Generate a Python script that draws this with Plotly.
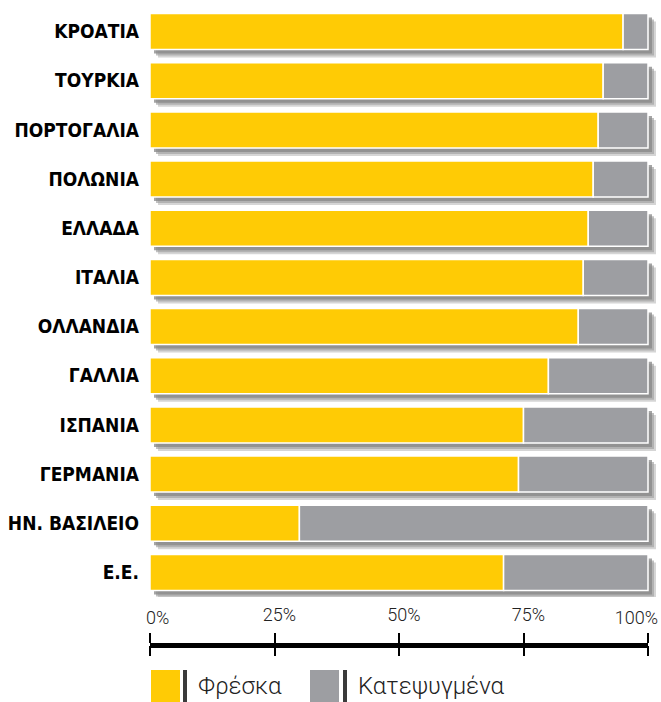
import plotly.graph_objects as go

countries = ["ΚΡΟΑΤΙΑ", "ΤΟΥΡΚΙΑ", "ΠΟΡΤΟΓΑΛΙΑ", "ΠΟΛΩΝΙΑ", "ΕΛΛΑΔΑ", "ΙΤΑΛΙΑ",
             "ΟΛΛΑΝΔΙΑ", "ΓΑΛΛΙΑ", "ΙΣΠΑΝΙΑ", "ΓΕΡΜΑΝΙΑ", "ΗΝ. ΒΑΣΙΛΕΙΟ", "Ε.Ε."]
fresh = [95, 91, 90, 89, 88, 87, 86, 80, 75, 74, 30, 71]
frozen = [5, 9, 10, 11, 12, 13, 14, 20, 25, 26, 70, 29]
series_names = ["Φρέσκα", "Κατεψυγμένα"]
tick_vals = [0, 25, 50, 75, 100]
tick_text = ["0%", "25%", "50%", "75%", "100%"]

YELLOW = "#FFCB05"
GRAY = "#9D9EA2"

W, H = 661, 702
ML, MR, MT, MB = 150, 3, 7, 45
plot_w = W - ML - MR
plot_h = H - MT - MB
x_max = 100 * plot_w / 498.0
n = len(countries)
y_dom0 = 0.0923
pitch_px = plot_h * (1 - y_dom0) / n
bw = 36.0 / pitch_px

totals = [f + z for f, z in zip(fresh, frozen)]

fig = go.Figure()
# soft shadows (layered to imitate a blur)
for d, col in [(8, "rgba(185,185,185,0.6)"), (6, "rgba(160,160,160,0.65)"), (4, "rgba(135,135,135,0.75)")]:
    fig.add_trace(go.Bar(
        y=countries, x=totals, base=[d * 100 / 498.0] * n, orientation="h",
        width=bw, offset=-bw / 2 + d / pitch_px,
        marker=dict(color=col, line=dict(width=0)),
        showlegend=False, hoverinfo="skip"))
fig.add_trace(go.Bar(
    y=countries, x=fresh, orientation="h", name=series_names[0], width=bw,
    marker=dict(color=YELLOW, line=dict(color="white", width=1.5)), showlegend=False))
fig.add_trace(go.Bar(
    y=countries, x=frozen, base=fresh, orientation="h", name=series_names[1], width=bw,
    marker=dict(color=GRAY, line=dict(color="white", width=1.5)), showlegend=False))
# invisible traces so that the percentage-axis subplots exist
for ax in ["x2", "x3", "x4", "x5"]:
    fig.add_trace(go.Scatter(x=[0], y=[countries[0]], xaxis=ax, mode="markers",
                             marker=dict(opacity=0), showlegend=False, hoverinfo="skip"))

axis_pos = (H - MB - 645) / plot_h
x2dom = [0, 498.0 / plot_w]
lab_font = dict(family="Roboto", size=18, color="#222", weight=300)
common = dict(range=[0, 100], domain=x2dom, anchor="free", position=axis_pos,
              showgrid=False, zeroline=False)

fig.update_layout(
    width=W, height=H,
    margin=dict(l=ML, r=MR, t=MT, b=MB, autoexpand=False),
    paper_bgcolor="white", plot_bgcolor="rgba(0,0,0,0)",
    barmode="overlay",
    showlegend=False,
    xaxis=dict(range=[0, x_max], visible=False, domain=[0, 1], anchor="y"),
    xaxis2=dict(**common, side="top",
                tickvals=tick_vals, ticktext=[""] + tick_text[1:4] + [""],
                ticks="outside", ticklen=10, tickwidth=2, tickcolor="black",
                showline=True, linewidth=5, linecolor="black",
                ticklabelstandoff=5, ticklabelshift=5, tickfont=lab_font),
    xaxis3=dict(**common, side="bottom", tickvals=tick_vals, ticks="outside", ticklen=10,
                tickwidth=2, tickcolor="black", showticklabels=False, showline=False),
    xaxis4=dict(**common, side="top", tickvals=tick_vals[:1], ticktext=tick_text[:1],
                ticks="", ticklabelposition="outside right", ticklabelstandoff=17,
                ticklabelshift=-4, showline=False, tickfont=lab_font),
    xaxis5=dict(**common, side="top", tickvals=tick_vals[-1:], ticktext=tick_text[-1:],
                ticks="", ticklabelposition="outside left", ticklabelstandoff=17,
                ticklabelshift=10, showline=False, tickfont=lab_font),
    yaxis=dict(domain=[y_dom0, 1], range=[n - 0.5, -0.5], categoryorder="array",
               categoryarray=countries, ticks="", showgrid=False, zeroline=False,
               ticklabelstandoff=10,
               tickfont=dict(family="DejaVu Sans Condensed, Liberation Sans Narrow, sans-serif",
                             size=19, color="black", weight="bold")),
)

# custom legend (large swatches like the reference)
def px_x(p):
    return (p - ML) / plot_w

def px_y(p):
    return (H - MB - p) / plot_h

legend_items = [(151, 180, 183, 187, 197, YELLOW, series_names[0]),
                (310, 339, 343, 347, 357, GRAY, series_names[1])]
for x0, x1, s0, s1, tx, col, label in legend_items:
    fig.add_shape(type="rect", xref="paper", yref="paper", x0=px_x(x0), x1=px_x(x1),
                  y0=px_y(703), y1=px_y(670), fillcolor=col, line=dict(width=0))
    fig.add_shape(type="rect", xref="paper", yref="paper", x0=px_x(s0), x1=px_x(s1),
                  y0=px_y(703), y1=px_y(670), fillcolor="#3a3a3a", line=dict(width=0))
    fig.add_annotation(xref="paper", yref="paper", x=px_x(tx), y=px_y(686), text=label,
                       showarrow=False, xanchor="left", yanchor="middle", borderpad=0,
                       font=dict(family="Roboto", size=24, color="#222", weight=300))

fig.write_html("out.html", config={"displayModeBar": False},
               post_script="document.body.style.margin='0';document.body.style.overflow='hidden';")
